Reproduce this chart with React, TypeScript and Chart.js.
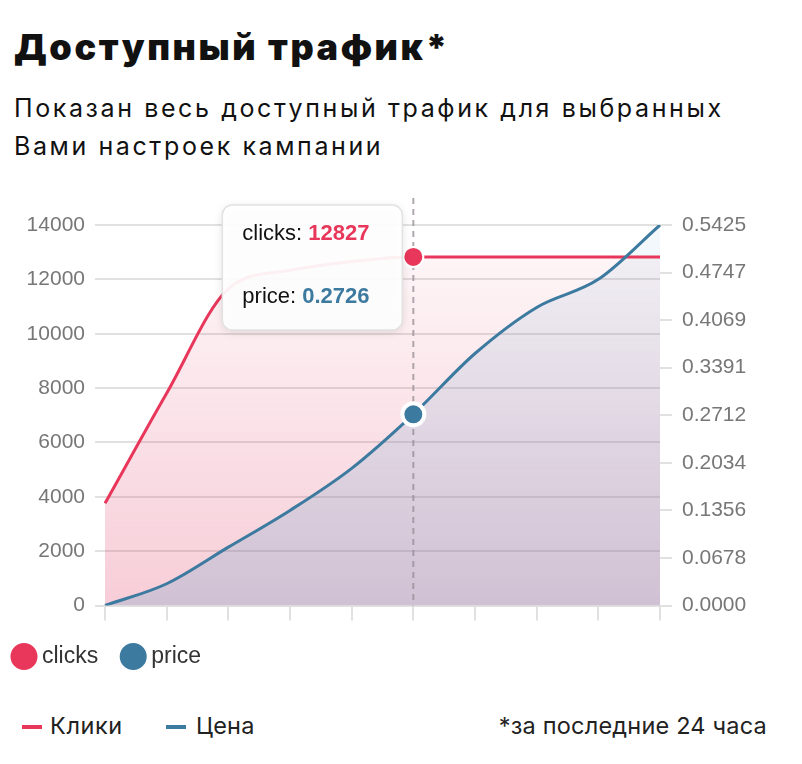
import React, { useEffect, useRef } from 'react';
import { Chart, registerables } from 'chart.js';

Chart.register(...registerables);

// ---- data ----
const labels = ['1', '2', '3', '4', '5', '6', '7', '8', '9', '10'];
const clicks = [3760, 7810, 11650, 12330, 12660, 12827, 12827, 12827, 12827, 12827];
const price = [0, 0.031, 0.0832, 0.1356, 0.1956, 0.2726, 0.3593, 0.425, 0.465, 0.5425];
const leftTickStep = 2000;
const leftMax = 14000;
const rightMax = 0.5425;
const rightTickLabels = ['0.0000', '0.0678', '0.1356', '0.2034', '0.2712', '0.3391', '0.4069', '0.4747', '0.5425'];
const activeIndex = 5;

const RED = '#e8375a';
const BLUE = '#3d7a9f';
const GRID = '#e1e1e1';
const AXIS_FONT = { family: '"Liberation Sans", Arial, Helvetica, sans-serif', size: 21 };

function vGradient(chart: any, stops: [number, string][]) {
  const area = chart.chartArea;
  if (!area) return 'transparent';
  const g = chart.ctx.createLinearGradient(0, area.top, 0, area.bottom);
  stops.forEach(([o, c]) => g.addColorStop(o, c));
  return g;
}

const overlayPlugin = {
  id: 'overlay',
  beforeDatasetsDraw(chart: any) {
    const ctx = chart.ctx;
    const x = chart.scales.x.getPixelForValue(activeIndex);
    const { top, bottom } = chart.chartArea;
    ctx.save();
    ctx.setLineDash([6, 5]);
    ctx.strokeStyle = 'rgba(150,140,150,0.75)';
    ctx.lineWidth = 2;
    ctx.beginPath();
    ctx.moveTo(x, top - 27);
    ctx.lineTo(x, bottom);
    ctx.stroke();
    ctx.restore();
  },
  afterDraw(chart: any) {
    const ctx = chart.ctx;
    const px = chart.scales.x.getPixelForValue(activeIndex);
    const { top } = chart.chartArea;
    const w = 180;
    const h = 125;
    const right = px - 11;
    const left = right - w;
    const bt = top - 20;
    const r = 10;
    ctx.save();
    ctx.beginPath();
    ctx.roundRect(left, bt, w, h, r);
    ctx.shadowColor = 'rgba(0,0,0,0.13)';
    ctx.shadowBlur = 10;
    ctx.shadowOffsetY = 2;
    ctx.fillStyle = 'rgba(255,255,255,0.93)';
    ctx.fill();
    ctx.shadowColor = 'transparent';
    ctx.lineWidth = 1.5;
    ctx.strokeStyle = '#e2e2e2';
    ctx.stroke();
    ctx.textBaseline = 'middle';
    ctx.textAlign = 'left';
    const fam = '"Liberation Sans", Arial, Helvetica, sans-serif';
    const rows: [string, string, string, number][] = [
      ['clicks: ', String(clicks[activeIndex]), RED, 29],
      ['price: ', price[activeIndex].toFixed(4), BLUE, 92],
    ];
    rows.forEach(([lab, val, col, dy]) => {
      ctx.font = `22px ${fam}`;
      ctx.fillStyle = '#111';
      ctx.fillText(lab, left + 20, bt + dy);
      const lw = ctx.measureText(lab).width;
      ctx.font = `bold 22px ${fam}`;
      ctx.fillStyle = col;
      ctx.fillText(val, left + 20 + lw, bt + dy);
    });
    ctx.restore();
  },
};

function TrafficChart() {
  const ref = useRef<HTMLCanvasElement | null>(null);
  useEffect(() => {
    if (!ref.current) return;
    const chart = new Chart(ref.current, {
      type: 'line',
      data: {
        labels,
        datasets: [
          {
            label: 'clicks',
            data: clicks,
            yAxisID: 'y',
            borderColor: RED,
            borderWidth: 3,
            backgroundColor: (c: any) =>
              vGradient(c.chart, [
                [0, 'rgba(223,56,96,0.03)'],
                [1, 'rgba(223,56,96,0.25)'],
              ]),
            fill: 'origin',
            cubicInterpolationMode: 'monotone',
            pointRadius: 0,
            pointBackgroundColor: RED,
            pointBorderColor: RED,
            pointHoverRadius: 10,
            pointHoverBackgroundColor: RED,
            pointHoverBorderColor: '#ffffff',
            pointHoverBorderWidth: 2,
            order: 1,
          },
          {
            label: 'price',
            data: price,
            yAxisID: 'y1',
            borderColor: BLUE,
            borderWidth: 3,
            backgroundColor: (c: any) =>
              vGradient(c.chart, [
                [0, 'rgba(70,150,200,0.06)'],
                [1, 'rgba(70,150,200,0.22)'],
              ]),
            fill: 'origin',
            cubicInterpolationMode: 'monotone',
            pointRadius: 0,
            pointBackgroundColor: BLUE,
            pointBorderColor: BLUE,
            pointHoverRadius: 11,
            pointHoverBackgroundColor: BLUE,
            pointHoverBorderColor: '#ffffff',
            pointHoverBorderWidth: 4,
            order: 0,
          },
        ],
      },
      options: {
        animation: false,
        responsive: true,
        maintainAspectRatio: false,
        events: [],
        layout: { padding: { top: 35, left: 0, right: 0, bottom: 0 } },
        plugins: {
          tooltip: { enabled: false },
          filler: { drawTime: 'beforeDatasetsDraw' },
          legend: {
            position: 'bottom',
            align: 'start',
            labels: {
              usePointStyle: true,
              pointStyle: 'circle',
              boxWidth: 13,
              boxHeight: 17,
              padding: 28.5,
              color: '#333',
              font: { family: '"Liberation Sans", Arial, Helvetica, sans-serif', size: 23 },
              sort: (a: any, b: any) => a.datasetIndex - b.datasetIndex,
            },
          },
        },
        scales: {
          x: {
            type: 'category',
            offset: false,
            ticks: { display: false },
            grid: { drawOnChartArea: false, drawTicks: true, tickLength: 15, color: GRID, lineWidth: 2 },
            border: { display: false },
            afterFit: (s: any) => {
              s.height = 11;
            },
          },
          y: {
            position: 'left',
            min: 0,
            max: leftMax,
            ticks: {
              stepSize: leftTickStep,
              padding: 10,
              color: '#777',
              font: AXIS_FONT,
              callback: (v: any) => String(v),
            },
            grid: { color: GRID, lineWidth: 2, tickLength: 10 },
            border: { display: false },
            afterFit: (s: any) => {
              s.width = 116;
            },
          },
          y1: {
            position: 'right',
            min: 0,
            max: rightMax,
            ticks: {
              count: rightTickLabels.length,
              padding: 10,
              color: '#777',
              font: AXIS_FONT,
              callback: (_v: any, i: number) => rightTickLabels[i],
            },
            grid: { drawOnChartArea: false, color: GRID, lineWidth: 2, tickLength: 12 },
            border: { display: false },
            afterFit: (s: any) => {
              s.width = 131;
            },
          },
        },
      },
      plugins: [overlayPlugin],
    } as any);
    chart.setActiveElements([
      { datasetIndex: 0, index: activeIndex },
      { datasetIndex: 1, index: activeIndex },
    ]);
    chart.update();
    return () => chart.destroy();
  }, []);
  return <canvas ref={ref} />;
}

export default function App() {
  const textFont = 'Inter, "Noto Sans", sans-serif';
  return (
    <div style={{ position: 'relative', height: 756, width: 786, fontFamily: textFont, color: '#111' }}>
      <div
        style={{
          position: 'absolute',
          left: 6,
          top: 19,
          fontSize: 36,
          fontWeight: 900,
          letterSpacing: '2.6px',
          lineHeight: '40px',
          whiteSpace: 'nowrap',
        }}
      >
        Доступный трафик*
      </div>
      <div
        style={{
          position: 'absolute',
          left: 6,
          top: 81,
          fontSize: 25,
          fontWeight: 400,
          letterSpacing: '2.6px',
          lineHeight: '38px',
          whiteSpace: 'nowrap',
          color: '#111',
        }}
      >
        Показан весь доступный трафик для выбранных
        <br />
        Вами настроек кампании
      </div>
      <div style={{ position: 'absolute', left: -19, top: 182, width: 802, height: 488 }}>
        <TrafficChart />
      </div>
      <div
        style={{
          position: 'absolute',
          left: 0,
          top: 703,
          width: 786,
          height: 30,
          fontSize: 23.5,
          letterSpacing: '0.2px',
          lineHeight: '30px',
          color: '#222',
        }}
      >
        <span style={{ position: 'absolute', left: 14, top: 14, width: 20, height: 4, background: RED }} />
        <span style={{ position: 'absolute', left: 42, top: 0, letterSpacing: '0.6px' }}>Клики</span>
        <span style={{ position: 'absolute', left: 158, top: 14, width: 20, height: 4, background: BLUE }} />
        <span style={{ position: 'absolute', left: 188, top: 0 }}>Цена</span>
        <span style={{ position: 'absolute', right: 27, top: 0, whiteSpace: 'nowrap' }}>*за последние 24 часа</span>
      </div>
    </div>
  );
}
